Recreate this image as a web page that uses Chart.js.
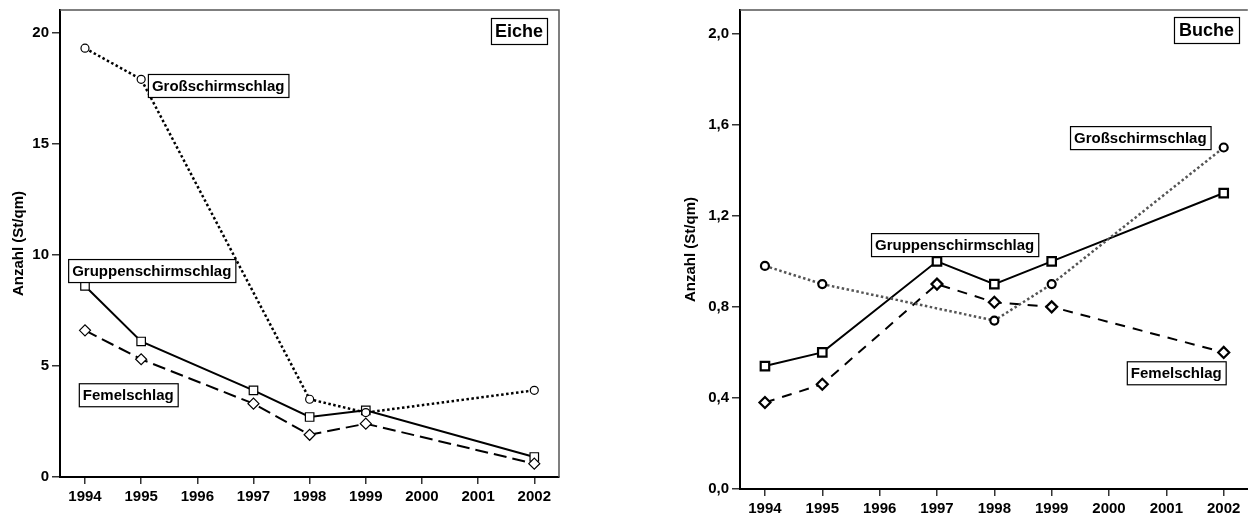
<!DOCTYPE html>
<html>
<head>
<meta charset="utf-8">
<script src="https://cdn.jsdelivr.net/npm/chart.js@4.4.0/dist/chart.umd.min.js"></script>
<style>
  body { margin: 0; background: #fff; width: 1248px; height: 519px; overflow: hidden; position: relative; }
  #eiche { position: absolute; left: 0; top: 0; }
  #buche { position: absolute; left: 680px; top: 0; }
</style>
</head>
<body>
<canvas id="eiche" width="600" height="519"></canvas>
<canvas id="buche" width="576" height="519"></canvas>
<script>
// shared x axis
const years = [1994, 1995, 1997, 1998, 1999, 2002];
const yearTicks = [1994, 1995, 1996, 1997, 1998, 1999, 2000, 2001, 2002];

// Eiche (left)
const eicheGross = [19.3, 17.9, null, 3.5, 2.9, 3.9];
const eicheGruppen = [8.6, 6.1, 3.9, 2.7, 3.0, 0.9];
const eicheFemel = [6.6, 5.3, 3.3, 1.9, 2.4, 0.6];
const eicheYTicks = [0, 5, 10, 15, 20];

// Buche (right)
const bucheGross = [0.98, 0.90, null, 0.74, 0.90, 1.50];
const bucheGruppen = [0.54, 0.60, 1.00, 0.90, 1.00, 1.30];
const bucheFemel = [0.38, 0.46, 0.90, 0.82, 0.80, 0.60];
const bucheYTicks = [0, 0.4, 0.8, 1.2, 1.6, 2.0];

const FONT = "'Liberation Sans', Arial, sans-serif";
Chart.defaults.font.family = FONT;
Chart.defaults.color = '#000';

function toPoints(values) {
    let pts = [];
    values.forEach((v, i) => {
        if (v !== null) pts.push({ x: years[i], y: v });
    });
    return pts;
}

// frame lines and the boxed text labels
const framePlugin = {
    id: 'frame',
    afterDatasetsDraw(chart, args, opts) {
        const { ctx, chartArea: a, scales } = chart;
        ctx.save();
        ctx.strokeStyle = '#555';
        ctx.lineWidth = 1.5;
        ctx.beginPath();
        ctx.moveTo(a.left, a.top);
        ctx.lineTo(a.right, a.top);
        if (opts.rightBorder) {
            ctx.lineTo(a.right, a.bottom);
        }
        ctx.stroke();

        ctx.textBaseline = 'middle';
        ctx.textAlign = 'left';
        for (let lab of opts.labels) {
            ctx.font = 'bold ' + lab.size + 'px ' + FONT;
            let w = ctx.measureText(lab.text).width + 2 * lab.pad;
            let h = lab.size + 8;
            let x, y;
            if (lab.corner) {
                x = opts.rightEdge - lab.corner[0] - w;
                y = a.top + lab.corner[1];
            } else {
                x = scales.x.getPixelForValue(lab.x);
                y = scales.y.getPixelForValue(lab.y);
            }
            ctx.fillStyle = '#fff';
            ctx.fillRect(x, y, w, h);
            ctx.strokeStyle = '#000';
            ctx.lineWidth = 1.2;
            ctx.strokeRect(x + 0.5, y + 0.5, w, h);
            ctx.fillStyle = '#000';
            ctx.fillText(lab.text, x + lab.pad, y + h / 2 + 1);
        }
        ctx.restore();
    }
};

function makeChart(id, cfg) {
    const ctx = document.getElementById(id).getContext('2d');
    return new Chart(ctx, {
        type: 'line',
        data: {
            datasets: [
                {
                    data: toPoints(cfg.gross),
                    borderColor: cfg.grossColor,
                    borderWidth: 2.5,
                    borderDash: [2.5, 2.5],
                    pointStyle: 'circle',
                    pointRadius: cfg.circleR,
                    pointBorderWidth: cfg.markerWidth,
                    pointBorderColor: '#000',
                    pointBackgroundColor: '#fff'
                },
                {
                    data: toPoints(cfg.femel),
                    borderColor: '#000',
                    borderWidth: 2,
                    borderDash: cfg.femelDash,
                    pointStyle: 'rectRot',
                    pointRadius: 5.5,
                    pointBorderWidth: cfg.markerWidth,
                    pointBorderColor: '#000',
                    pointBackgroundColor: '#fff'
                },
                {
                    data: toPoints(cfg.gruppen),
                    borderColor: '#000',
                    borderWidth: 2,
                    pointStyle: 'rect',
                    pointRadius: 6,
                    pointBorderWidth: cfg.markerWidth,
                    pointBorderColor: '#000',
                    pointBackgroundColor: '#fff'
                }
            ]
        },
        options: {
            responsive: false,
            animation: false,
            layout: { padding: cfg.padding },
            elements: { line: { tension: 0 } },
            plugins: {
                legend: { display: false },
                tooltip: { enabled: false },
                frame: { rightBorder: cfg.rightBorder, rightEdge: cfg.rightEdge, labels: cfg.labels }
            },
            scales: {
                x: {
                    type: 'linear',
                    min: cfg.xMin,
                    max: cfg.xMax,
                    afterBuildTicks: s => { s.ticks = yearTicks.map(v => ({ value: v })); },
                    afterFit: s => { s.height = cfg.xHeight; s.paddingLeft = 0; s.paddingRight = 0; },
                    ticks: {
                        font: { size: 15, weight: 'bold' },
                        padding: 4,
                        maxRotation: 0,
                        callback: v => String(v)
                    },
                    grid: { drawOnChartArea: false, drawTicks: true, tickLength: 7, color: '#333', lineWidth: 1.5 },
                    border: { display: true, color: '#000', width: 2 }
                },
                y: {
                    type: 'linear',
                    min: 0,
                    max: cfg.yMax,
                    afterBuildTicks: s => { s.ticks = cfg.yTicks.map(v => ({ value: v })); },
                    afterFit: s => { s.width = 60; s.paddingTop = 0; s.paddingBottom = 0; },
                    ticks: {
                        font: { size: 15, weight: 'bold' },
                        padding: 3,
                        callback: cfg.yFormat
                    },
                    grid: { drawOnChartArea: false, drawTicks: true, tickLength: 8, color: '#333', lineWidth: 1.5 },
                    border: { display: true, color: '#000', width: 2 },
                    title: {
                        display: true,
                        text: 'Anzahl (St/qm)',
                        font: { size: 15, weight: 'bold' },
                        padding: { top: cfg.titlePad, bottom: 0 }
                    }
                }
            }
        },
        plugins: [framePlugin]
    });
}

makeChart('eiche', {
    gross: eicheGross,
    gruppen: eicheGruppen,
    femel: eicheFemel,
    yTicks: eicheYTicks,
    yMax: 21.02,
    yFormat: v => String(v),
    xMin: 1993.555,
    xMax: 2002.44,
    xHeight: 42,
    padding: { top: 10, right: 41, left: 0, bottom: 0 },
    titlePad: 10,
    grossColor: '#000',
    femelDash: [13, 6],
    circleR: 4,
    markerWidth: 1.2,
    rightBorder: true,
    rightEdge: 559,
    labels: [
        { text: 'Eiche', size: 18, pad: 4, corner: [12, 8] },
        { text: 'Großschirmschlag', size: 15, pad: 4, x: 1995.12, y: 18.14 },
        { text: 'Gruppenschirmschlag', size: 15, pad: 4, x: 1993.70, y: 9.81 },
        { text: 'Femelschlag', size: 15, pad: 4, x: 1993.89, y: 4.22 }
    ]
});

makeChart('buche', {
    gross: bucheGross,
    gruppen: bucheGruppen,
    femel: bucheFemel,
    yTicks: bucheYTicks,
    yMax: 2.104,
    yFormat: v => v.toFixed(1).replace('.', ','),
    xMin: 1993.565,
    xMax: 2002.42,
    xHeight: 30,
    padding: { top: 10, right: 0, left: 0, bottom: 0 },
    titlePad: 2,
    grossColor: '#555',
    femelDash: [10, 8],
    circleR: 4,
    markerWidth: 2.2,
    rightBorder: false,
    rightEdge: 568,
    labels: [
        { text: 'Buche', size: 18, pad: 5, corner: [9, 7] },
        { text: 'Großschirmschlag', size: 15, pad: 4, x: 1999.32, y: 1.594 },
        { text: 'Gruppenschirmschlag', size: 15, pad: 4, x: 1995.85, y: 1.124 },
        { text: 'Femelschlag', size: 15, pad: 4, x: 2000.31, y: 0.561 }
    ]
});
</script>
</body>
</html>
